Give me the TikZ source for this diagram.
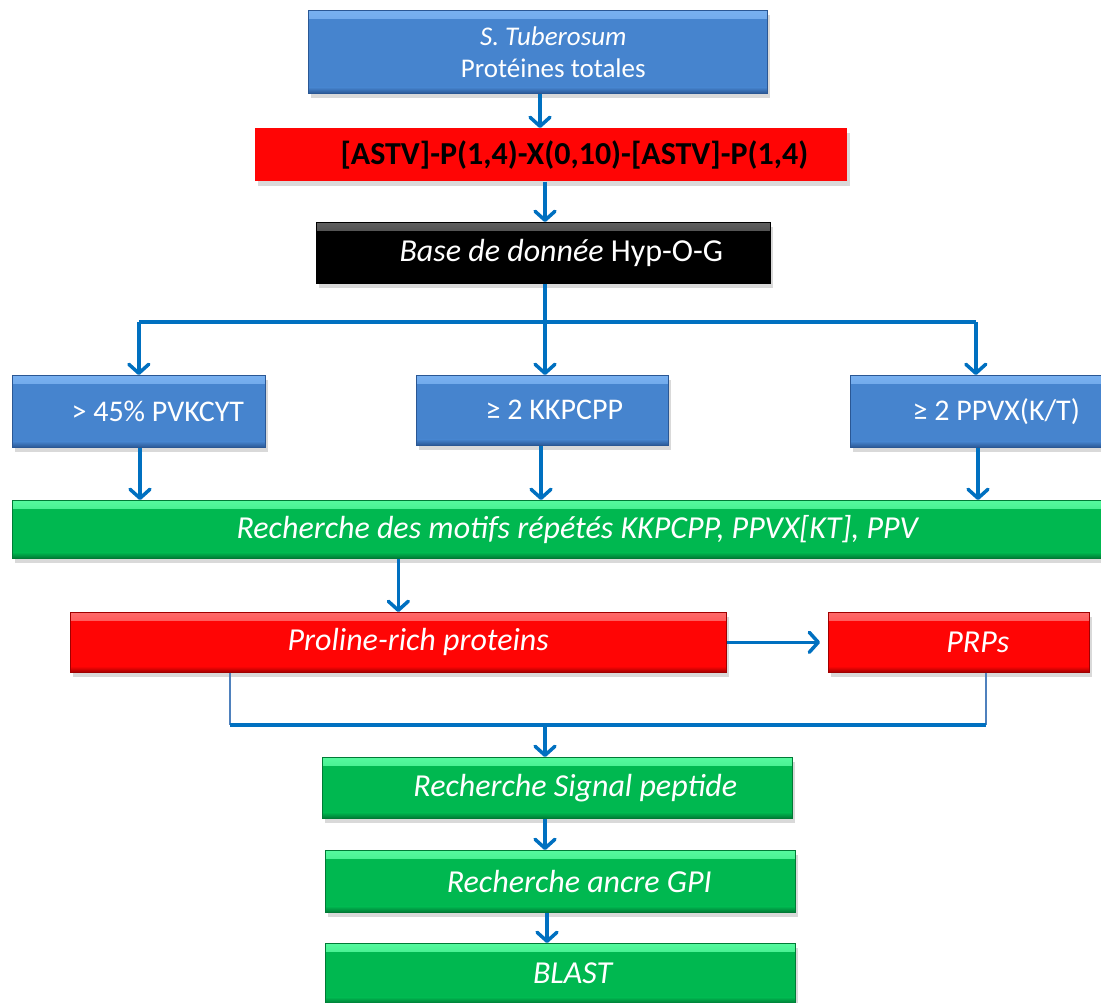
\documentclass[tikz,border=0pt]{standalone}
\usepackage{fontspec}
\setmainfont{Carlito}
\usetikzlibrary{arrows.meta,shadows}
\definecolor{linkblue}{HTML}{0070C0}
\definecolor{feedblue}{HTML}{4F81BD}
\definecolor{blueL}{HTML}{78B0F0}
\definecolor{blueM}{HTML}{4684CE}
\definecolor{blueD}{HTML}{2A5794}
\definecolor{greenL}{HTML}{55FA9E}
\definecolor{greenM}{HTML}{00B850}
\definecolor{greenD}{HTML}{007A35}
\definecolor{redL}{HTML}{FF6A6A}
\definecolor{redM}{HTML}{FF0505}
\definecolor{redD}{HTML}{A00000}
\definecolor{blackL}{HTML}{606060}
\tikzset{
  chart/.style={font=\fontsize{32}{38}\selectfont, text=white,
    >={Straight Barb[length=9pt,width=20pt,round]}},
  box/.style={anchor=north west, inner sep=0pt, align=center,
    line width=.6pt, drop shadow={opacity=.3,shadow xshift=3pt,shadow yshift=-5pt}},
  % light band on top, dark band at the bottom
  bevel/.style n args={3}{fill=#2, path picture={
    \shade[top color=#1,bottom color=#2] (path picture bounding box.north west)
      rectangle ([yshift=-8pt]path picture bounding box.north east);
    \shade[top color=#2,bottom color=#3] ([yshift=6pt]path picture bounding box.south west)
      rectangle (path picture bounding box.south east);}},
  nudge/.style={execute at begin node={\hspace*{#1}}},
  bluebox/.style={box, draw=blueD, bevel={blueL}{blueM}{blueD},
    font=\fontsize{30}{36}\selectfont},
  greenbox/.style={box, draw=greenD, bevel={greenL}{greenM}{greenD}},
  redbox/.style={box, draw=redD, bevel={redL}{redM}{redD}},
  flow/.style={->, draw=linkblue, line width=3.5pt},
  trunk/.style={draw=linkblue, line width=3.5pt},
  feed/.style={draw=feedblue, line width=2.2pt},
}

\begin{document}
\begin{tikzpicture}[chart,x=1pt,y=1pt]
  % Same size as the source page, in pixels.
  \path[use as bounding box] (0,0) rectangle (1101,-1003);

  % ---------------- Source and motif filter ----------------
  \node[bluebox,font=\fontsize{27}{32}\selectfont,
    minimum width=459pt,minimum height=83pt] (tuberosum) at (308,-10)
    {\hspace*{31pt}\textit{S. Tuberosum}\\\hspace*{31pt}Protéines totales};
  \node[box,fill=redM,drop shadow={opacity=0},text=black,font=\fontsize{32}{38}\selectfont\bfseries,
    minimum width=592pt,minimum height=53pt,nudge=46pt] (motif) at (255,-128)
    {[ASTV]-P(1,4)-X(0,10)-[ASTV]-P(1,4)};
  \node[box,draw=black,bevel={blackL}{black}{black},
    minimum width=454pt,minimum height=61pt,nudge=36pt] (hypog) at (316,-222)
    {\textit{Base de donnée} Hyp-O-G};
  \draw[flow] (tuberosum.south -| 540,0) -- (motif.north -| 540,0);
  \draw[flow] (motif.south -| 545,0) -- (hypog.north -| 545,0);

  % Three criteria, fed from one split line.
  \node[bluebox,minimum width=253pt,minimum height=72pt,nudge=38pt] (pvk) at (12,-375)
    {> 45\% PVKCYT};
  \node[bluebox,minimum width=252pt,minimum height=70pt,nudge=24pt] (kkp) at (416,-375)
    {≥ 2 KKPCPP};
  \node[bluebox,minimum width=251pt,minimum height=72pt,nudge=41pt] (ppvx) at (850,-375)
    {≥ 2 PPVX(K/T)};
  \coordinate (split) at (545,-322);
  \draw[trunk] (pvk.north |- split) -- (ppvx.north |- split);
  \draw[flow] (hypog.south -| split) -- (kkp.north -| split);
  \draw[flow] (pvk.north |- split) -- (pvk.north);
  \draw[flow] (ppvx.north |- split) -- (ppvx.north);

  % ---------------- Repeats and PRPs ----------------
  \node[greenbox,minimum width=1089pt,minimum height=58pt,nudge=42pt] (repeats) at (12,-500)
    {\textit{Recherche des motifs répétés KKPCPP, PPVX[KT], PPV}};
  \draw[flow] (pvk.south -| 140,0) -- (repeats.north -| 140,0);
  \draw[flow] (kkp.south -| 541,0) -- (repeats.north -| 541,0);
  \draw[flow] (ppvx.south -| 978,0) -- (repeats.north -| 978,0);

  \node[redbox,minimum width=656pt,minimum height=60pt,nudge=40pt] (prp) at (70,-612)
    {\textit{Proline-rich proteins}};
  \node[redbox,minimum width=261pt,minimum height=60pt,nudge=38pt] (prps) at (828,-612)
    {\textit{PRPs}};
  \draw[flow] (repeats.south -| prp.north) -- (prp.north);
  \draw[flow,shorten >=8pt] (prp.east) -- (prps.west);

  % Both red boxes join again above the signal search.
  \coordinate (mergeL) at (230,-725);
  \coordinate (mergeR) at (986,-725);
  \coordinate (merge) at (545,-725);
  \draw[feed] (prp.south -| mergeL) -- (mergeL);
  \draw[feed] (prps.south -| mergeR) -- (mergeR);
  \draw[trunk] (mergeL) -- (mergeR);

  % ---------------- Final checks ----------------
  \node[greenbox,minimum width=470pt,minimum height=61pt,nudge=36pt] (signal) at (322,-757)
    {\textit{Recherche Signal peptide}};
  \node[greenbox,minimum width=470pt,minimum height=62pt,nudge=38pt] (gpi) at (325,-850)
    {\textit{Recherche ancre GPI}};
  \node[greenbox,minimum width=470pt,minimum height=60pt,nudge=26pt] (blast) at (325,-943)
    {\textit{BLAST}};
  \draw[flow] (merge) -- (signal.north -| merge);
  \draw[flow] (signal.south -| merge) -- (gpi.north -| merge);
  \draw[flow] (gpi.south -| 547,0) -- (blast.north -| 547,0);
\end{tikzpicture}
\end{document}
